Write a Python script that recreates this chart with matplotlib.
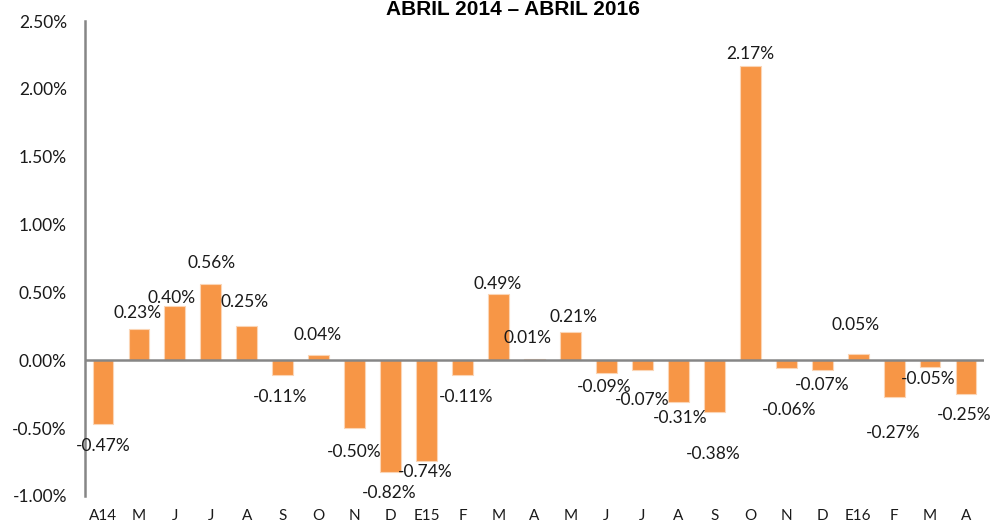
import matplotlib.pyplot as plt
from matplotlib.ticker import FuncFormatter

months = ["A14", "M", "J", "J", "A", "S", "O", "N", "D", "E15", "F", "M", "A",
          "M", "J", "J", "A", "S", "O", "N", "D", "E16", "F", "M", "A"]
values = [-0.47, 0.23, 0.40, 0.56, 0.25, -0.11, 0.04, -0.50, -0.82, -0.74, -0.11,
          0.49, 0.01, 0.21, -0.09, -0.07, -0.31, -0.38, 2.17, -0.06, -0.07,
          0.05, -0.27, -0.05, -0.25]
# hand nudged label offsets (pixels from bar end), like the original sheet
label_dx = [0, -1, -3, 1, -2, -3, -1, -1, -1, -1, 4, -1, -7, 3, -2, 0, 2, -1,
            0, 3, 0, -3, -1, -2, -2]
label_dy = [-22, 16, 8, 21, 24, -22, 20, -24, -21, -11, -22, 10, 21, 15, -15,
            -30, -16, -42, 12, -42, -15, 29, -36, -12, -21]

plt.rcParams['font.family'] = ['Lato', 'DejaVu Sans']

fig = plt.figure(figsize=(10.04, 5.23), dpi=100)
ax = fig.add_axes([85/1004, 1 - 496/523, (984 - 85)/1004, (496 - 21)/523])

x = list(range(len(values)))
ax.bar(x, values, width=0.58, color="#F79646", edgecolor="#FBD5B5", linewidth=0.8)
ax.axhline(0, color="#868686", linewidth=1.8, zorder=3)

for i, v in enumerate(values):
    ax.annotate(f"{v:.2f}%", (i, v), xytext=(label_dx[i], label_dy[i]),
                textcoords="offset pixels", ha="center", va="center",
                fontsize=12.5, color="#1a1a1a")

ax.set_xlim(-0.5, len(values) - 0.5)
ax.set_ylim(-1.0, 2.5)
ax.set_yticks([-1.0, -0.5, 0.0, 0.5, 1.0, 1.5, 2.0, 2.5])
ax.yaxis.set_major_formatter(FuncFormatter(lambda y, _: f"{y:.2f}%"))
ax.set_xticks(x)
ax.set_xticklabels(months)
ax.tick_params(axis="y", length=0, pad=13, labelsize=12.5, labelcolor="#1a1a1a")
ax.tick_params(axis="x", length=0, pad=9, labelsize=11, labelcolor="#1a1a1a")

for side in ["top", "right", "bottom"]:
    ax.spines[side].set_visible(False)
ax.spines["left"].set_color("#868686")
ax.spines["left"].set_linewidth(1.8)

fig.text(513/1004, 1 - 15/523, "ABRIL 2014 – ABRIL 2016", ha="center",
         va="baseline", fontsize=15, fontweight="bold",
         family=["Liberation Sans", "DejaVu Sans"])

fig.savefig("out.png", dpi=100)
